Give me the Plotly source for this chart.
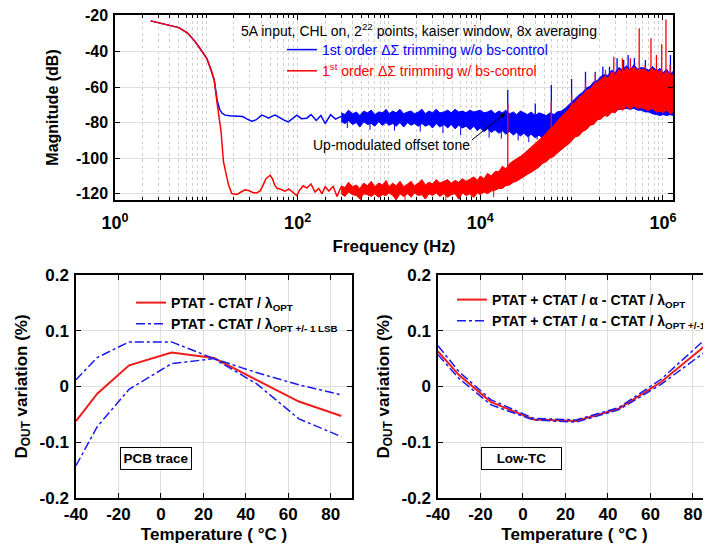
import math
import plotly.graph_objects as go

FONT = "Arial, 'Liberation Sans', sans-serif"
PAGE_W, PAGE_H = 711, 552
OFF = 8                      # page body margin: figure starts 8 px in from the page corner
W, H = PAGE_W - OFF, PAGE_H - OFF
BLUE = "#0000ff"
RED = "#ff0000"

# ---------------- Top panel: output spectrum ----------------
# smooth low-frequency part
red_lo_f = [2.46, 3.5, 5.0, 6.2, 7.4, 8.5, 10.1, 11.2, 12.2, 13.2, 14.5, 15.4, 16.5, 17.5, 19, 21.6,
            24, 26.6, 29.5, 32.7, 35.5, 38.8, 42, 45, 50, 53, 56, 59, 65, 73, 80, 88, 98, 105,
            115, 126, 140, 155, 170, 185, 200, 220, 245, 270, 300]
red_lo_db = [-22.8, -24.5, -26.6, -29.5, -33.9, -38.2, -43.8, -50, -56, -70, -85, -102, -110, -115,
             -119.9, -120.4, -119, -117.8, -118.3, -119.4, -119.5, -118.4, -115, -111.5, -109.6,
             -111.5, -115, -116.8, -117.5, -118.5, -117.3, -119, -121, -118, -115.5, -116.8, -114.5,
             -119, -117, -120, -116, -118.5, -115.8, -121.5, -116]
blue_lo_f = [2.46, 3.5, 5.0, 6.2, 7.4, 8.5, 10.1, 11.2, 12.2, 13.2, 14, 14.8, 16, 18, 20, 22, 25, 28,
             31.5, 35, 40.4, 44, 48, 52, 57, 63, 70, 79, 88, 98, 110, 126, 140, 160, 180, 200, 230,
             260, 300]
blue_lo_db = [-22.8, -24.5, -26.6, -29.5, -33.9, -38.2, -43.8, -50, -56, -68, -72.5, -74.6, -75.8,
              -76.2, -76.4, -76.3, -76.6, -78, -79.2, -78.5, -75.8, -76.5, -77.5, -76.5, -75.8, -77,
              -78.5, -79.6, -77.5, -75.8, -77.8, -77.5, -75.5, -78.8, -76, -80.5, -75.5, -78, -76.5]

# noisy part: upper / lower envelopes of the noise band
band_f = [300, 330, 360, 400, 440, 480, 530, 580, 640, 700, 770, 850, 930, 1000,
          1100, 1200, 1320, 1450, 1600, 1750, 1900, 2100, 2300, 2500, 2750, 3000, 3300, 3600,
          4000, 4400, 4800, 5300, 5800, 6400, 7000, 7700, 8500, 9300,
          1.0e4, 1.1e4, 1.2e4, 1.32e4, 1.45e4, 1.6e4, 1.75e4, 1.9e4, 2.1e4, 2.3e4, 2.5e4, 2.75e4,
          3.0e4, 3.3e4, 3.6e4, 4.0e4, 4.4e4, 4.8e4, 5.3e4, 5.8e4, 6.4e4, 7.0e4, 7.7e4, 8.5e4, 9.3e4,
          1.0e5, 1.1e5, 1.2e5, 1.32e5, 1.45e5, 1.6e5, 1.75e5, 1.9e5, 2.1e5, 2.3e5, 2.5e5, 2.75e5,
          3.0e5, 3.3e5, 3.6e5, 4.0e5, 4.4e5, 4.8e5, 5.3e5, 5.8e5, 6.4e5, 7.0e5, 7.7e5, 8.5e5, 9.3e5,
          1.0e6, 1.1e6, 1.2e6, 1.3e6]
red_upper = [-115.5, -116.5, -113.5, -116, -115, -117, -114, -115.5, -113, -116, -114, -115, -112.5, -116,
             -114, -115.5, -113, -116, -114.5, -113, -115.5, -114, -112, -115, -113.5, -114.5, -112, -114,
             -113, -112, -114, -112.5, -113.5, -111.5, -113, -112, -110.5, -112.5,
             -110, -111.5, -108.5, -110, -107.5, -107.5, -104.5, -106, -103, -101.5, -100.5, -99,
             -97.5, -95.5, -94, -92, -90, -88, -86, -83.5, -81.5, -79, -77, -74.5, -72.5,
             -70, -68.5, -66, -64.5, -62, -61, -58.5, -57.5, -55.5, -54, -55, -51.5,
             -53.5, -50, -52, -49, -51.5, -48.5, -51, -50, -50.5, -51.5, -49.5, -52, -50.5,
             -53, -51, -54, -52.5]
red_lower = [-120, -121.5, -119, -120.5, -121, -123, -120, -120.5, -121.5, -120, -122, -120.5, -121, -119.5,
             -121, -123.5, -120, -121.5, -120, -122, -119.5, -121, -120.5, -123, -120, -121, -119.5, -121.5,
             -120, -122, -120.5, -120, -123, -119.5, -121, -120, -122, -119.5,
             -120.5, -119, -120, -118.5, -118, -117, -117, -115.5, -115, -113.5, -113, -111.5,
             -110.5, -109, -108, -106.5, -105, -103, -102, -100, -99, -97, -95.5, -93.5, -92,
             -90.5, -88, -87.5, -85, -84, -81.5, -81, -78.5, -78, -76, -76.5, -74,
             -74.5, -72, -73, -71, -72.5, -70.5, -72, -71.5, -72.5, -73, -72, -74, -73.5,
             -74.5, -73, -75, -74]
blue_upper = [-74.5, -75.5, -73, -75, -74, -76, -73.5, -74.5, -73, -75.5, -74, -74.5, -72.5, -75,
              -73.5, -74.5, -72.5, -75, -74, -73.5, -75, -74, -72.5, -75, -73.5, -74.5, -72.5, -74.5,
              -74, -73, -74.5, -72.5, -74, -73.5, -74.5, -73, -74, -73.5,
              -73, -74.5, -74, -73, -75, -73.5, -74.5, -73, -75, -74, -75.5, -73.5,
              -74.5, -75.5, -74, -76, -74.5, -75, -76, -74.5, -75.5, -74, -73.5, -72, -70,
              -68.5, -66.5, -64.5, -63, -60.5, -59.5, -57, -56.5, -54, -53, -53.5, -50.5,
              -52, -49, -50.5, -48, -50.5, -47.5, -50, -49, -49.5, -50.5, -48.5, -51, -49.5,
              -52, -50, -53, -51]
blue_lower = [-79.5, -80.5, -79, -81, -80, -82.5, -79.5, -81, -80.5, -82, -79.5, -81.5, -80, -81.5,
              -80.5, -82, -80, -82.5, -80, -81.5, -80.5, -82, -80.5, -82, -81, -83, -80.5, -82.5,
              -81, -83, -81, -83.5, -81.5, -83, -82, -84, -82, -84.5,
              -83, -85, -83.5, -85.5, -84, -86, -84.5, -86.5, -85, -87, -85.5, -87.5,
              -86, -88, -86.5, -88.5, -87, -89, -87.5, -90, -88, -90.5, -88, -89, -88,
              -88, -86, -86, -84, -83, -81, -80, -78, -77.5, -76, -75.5, -74,
              -73.5, -72.5, -72.5, -72, -72.5, -72, -73, -73, -74, -74, -75, -75.5, -76,
              -75.5, -76, -75.5, -76]

# isolated noise hairlines sticking out of the bands
blue_hair_f = [350, 620, 1150, 2200, 3900, 6100, 1.25e4, 1.7e4, 2.6e4, 3.4e4, 4.2e4, 5.0e4, 5.6e4,
               6.7e4, 7.3e4]
blue_hair_db = [-83, -84, -84.5, -85, -86, -87, -88.5, -89, -90, -91, -89.5, -92, -93, -91.5, -94]
blue_hair_base = [-78, -78, -78, -78, -78, -79, -80, -80, -81, -82, -82, -83, -83, -84, -84]
red_hair_f = [490, 1500, 4200, 6000, 8000, 1.4e4]
red_hair_db = [-123.5, -124, -123.5, -124, -124, -122]
red_hair_base = [-118, -118, -118, -118, -118, -116]

# spectral tones (spurs)
blue_spur_f = [2.0e4, 4.0e4, 6.0e4, 1.0e5, 1.42e5, 1.82e5, 2.2e5, 2.6e5, 3.15e5, 3.72e5, 4.16e5,
               4.87e5, 6.43e5, 8.13e5, 1.21e6]
blue_spur_db = [-61.7, -69.2, -58.9, -55.5, -51.4, -51.4, -48.6, -48.6, -43.8, -44.8, -42, -43.8,
                -44.8, -49.5, -42]
blue_spur_base = [-78, -80, -80, -80, -75, -70, -65, -62, -60, -60, -60, -60, -60, -62, -62]
red_spur_f = [2.0e4, 6.0e4, 1.0e5, 1.42e5, 1.82e5, 2.35e5, 2.9e5, 3.6e5, 4.4e5, 5.5e5, 6.4e5,
              7.4e5, 8.5e5, 9.7e5, 1.08e6, 1.2e6]
red_spur_db = [-69.2, -68, -64, -57, -52.3, -50.4, -42.9, -43.8, -43.8, -26.9, -47.6, -32.6, -42,
               -36, -22, -47.6]
red_spur_base = [-110, -95, -85, -75, -70, -66, -62, -62, -60, -60, -62, -62, -63, -63, -63, -63]

freq_tickvals = [1, 100, 1e4, 1e6]
freq_ticktext = ["<b>10<sup>0</sup></b>", "<b>10<sup>2</sup></b>", "<b>10<sup>4</sup></b>",
                 "<b>10<sup>6</sup></b>"]
mag_ticks = [-20, -40, -60, -80, -100, -120]

# ---------------- Bottom panels: temperature sweeps ----------------
temp = [-40, -30, -15, 5, 25, 45, 65, 85]
pcb_opt = [-0.062, -0.013, 0.038, 0.061, 0.051, 0.012, -0.027, -0.053]
pcb_plus = [0.012, 0.052, 0.080, 0.080, 0.050, 0.025, 0.003, -0.015]
pcb_minus = [-0.142, -0.072, -0.005, 0.041, 0.050, 0.005, -0.058, -0.090]
ltc_opt = [0.063, 0.020, -0.028, -0.059, -0.062, -0.040, 0.008, 0.071]
ltc_plus = [0.073, 0.026, -0.024, -0.057, -0.060, -0.038, 0.013, 0.082]
ltc_minus = [0.057, 0.014, -0.033, -0.060, -0.064, -0.042, 0.004, 0.060]
temp_ticks = [-40, -20, 0, 20, 40, 60, 80]
dout_ticks = [-0.2, -0.1, 0, 0.1, 0.2]
dout_ticktext = ["<b>-0.2</b>", "<b>-0.1</b>", "<b>0</b>", "<b>0.1</b>", "<b>0.2</b>"]


def seg_xy(fs, tops, bases):
    xs, ys = [], []
    for f, t, b in zip(fs, tops, bases):
        xs += [f, f, None]
        ys += [b, t, None]
    return xs, ys


fig = go.Figure()

# --- top traces (blue first, red on top) ---
fig.add_trace(go.Scatter(x=blue_lo_f, y=blue_lo_db, mode="lines", line=dict(color=BLUE, width=1.5),
                         name='<span style="color:#0000ff">1st order ΔΣ trimming w/o bs-control</span>',
                         legend="legend", xaxis="x", yaxis="y"))
fig.add_trace(go.Scatter(x=band_f, y=blue_lower, mode="lines", line=dict(color=BLUE, width=1),
                         showlegend=False, xaxis="x", yaxis="y"))
fig.add_trace(go.Scatter(x=band_f, y=blue_upper, mode="lines", line=dict(color=BLUE, width=1),
                         fill="tonexty", fillcolor=BLUE, showlegend=False, xaxis="x", yaxis="y"))
hx, hy = seg_xy(blue_hair_f, blue_hair_db, blue_hair_base)
fig.add_trace(go.Scatter(x=hx, y=hy, mode="lines", line=dict(color=BLUE, width=1),
                         showlegend=False, xaxis="x", yaxis="y"))
bx, by = seg_xy(blue_spur_f, blue_spur_db, blue_spur_base)
fig.add_trace(go.Scatter(x=bx, y=by, mode="lines", line=dict(color=BLUE, width=1.3),
                         showlegend=False, xaxis="x", yaxis="y"))

fig.add_trace(go.Scatter(x=red_lo_f, y=red_lo_db, mode="lines", line=dict(color=RED, width=1.5),
                         name='<span style="color:#ff0000">1<sup>st</sup> order ΔΣ trimming w/ bs-control</span>',
                         legend="legend", xaxis="x", yaxis="y"))
fig.add_trace(go.Scatter(x=band_f, y=red_lower, mode="lines", line=dict(color=RED, width=1),
                         showlegend=False, xaxis="x", yaxis="y"))
fig.add_trace(go.Scatter(x=band_f, y=red_upper, mode="lines", line=dict(color=RED, width=1),
                         fill="tonexty", fillcolor=RED, showlegend=False, xaxis="x", yaxis="y"))
hx, hy = seg_xy(red_hair_f, red_hair_db, red_hair_base)
fig.add_trace(go.Scatter(x=hx, y=hy, mode="lines", line=dict(color=RED, width=1),
                         showlegend=False, xaxis="x", yaxis="y"))
rx, ry = seg_xy(red_spur_f, red_spur_db, red_spur_base)
fig.add_trace(go.Scatter(x=rx, y=ry, mode="lines", line=dict(color=RED, width=1.3),
                         showlegend=False, xaxis="x", yaxis="y"))

# --- bottom-left (PCB trace) ---
fig.add_trace(go.Scatter(x=temp, y=pcb_opt, mode="lines", line=dict(color="#ee1c1c", width=2),
                         name="<b>PTAT - CTAT / λ<sub>OPT</sub></b>", legend="legend2",
                         xaxis="x2", yaxis="y2"))
fig.add_trace(go.Scatter(x=temp, y=pcb_plus, mode="lines", line=dict(color="#1a1aee", width=1.5, dash="dashdot"),
                         name="<b>PTAT - CTAT / λ<sub>OPT +/- 1 LSB</sub></b>", legend="legend2",
                         xaxis="x2", yaxis="y2"))
fig.add_trace(go.Scatter(x=temp, y=pcb_minus, mode="lines", line=dict(color="#1a1aee", width=1.5, dash="dashdot"),
                         showlegend=False, xaxis="x2", yaxis="y2"))

# --- bottom-right (Low-TC) ---
fig.add_trace(go.Scatter(x=temp, y=ltc_opt, mode="lines", line=dict(color="#ee1c1c", width=2),
                         name="<b>PTAT + CTAT / α - CTAT / λ<sub>OPT</sub></b>", legend="legend3",
                         xaxis="x3", yaxis="y3"))
fig.add_trace(go.Scatter(x=temp, y=ltc_plus, mode="lines", line=dict(color="#1a1aee", width=1.5, dash="dashdot"),
                         name="<b>PTAT + CTAT / α - CTAT / λ<sub>OPT +/-1 LSB</sub></b>", legend="legend3",
                         xaxis="x3", yaxis="y3"))
fig.add_trace(go.Scatter(x=temp, y=ltc_minus, mode="lines", line=dict(color="#1a1aee", width=1.5, dash="dashdot"),
                         showlegend=False, xaxis="x3", yaxis="y3"))


def px_x(p):
    """page pixel -> paper fraction"""
    return (p - OFF) / W


def px_y(p):
    return 1 - (p - OFF) / H


axis_common = dict(showline=True, linecolor="black", linewidth=1.5, mirror="ticks",
                   ticks="inside", tickcolor="black", ticklen=5, zeroline=False, automargin=False,
                   ticklabeloverflow="allow")

grid_solid = dict(showgrid=True, gridcolor="#dedede", gridwidth=1)
legend_common = dict(xanchor="left", yanchor="top", bgcolor="rgba(0,0,0,0)",
                     font=dict(size=14), tracegroupgap=0, traceorder="normal")

fig.update_layout(
    template="none",
    width=W, height=H,
    margin=dict(l=0, r=0, t=0, b=0, autoexpand=False),
    paper_bgcolor="white", plot_bgcolor="white",
    font=dict(family=FONT, color="black"),
    xaxis=dict(domain=[px_x(115), px_x(673)], anchor="y", type="log",
               range=[0, math.log10(1.29e6)],
               tickmode="array", tickvals=freq_tickvals, ticktext=freq_ticktext,
               tickfont=dict(size=18), ticklabelstandoff=6,
               showgrid=True, gridcolor="#d0d0d0", griddash="dot", gridwidth=1,
               minor=dict(dtick="D1", showgrid=True, gridcolor="#d0d0d0", griddash="dot",
                          ticks="inside", ticklen=3, tickcolor="black"),
               title=dict(text="<b>Frequency (Hz)</b>", font=dict(size=17), standoff=8),
               **axis_common),
    yaxis=dict(domain=[px_y(200), px_y(15)], anchor="x", range=[-123.5, -19.5],
               tickmode="array", tickvals=mag_ticks, ticktext=[f"<b>{v}</b>" for v in mag_ticks],
               tickfont=dict(size=16), ticklabelstandoff=2,
               title=dict(text="<b>Magnitude (dB)</b>", font=dict(size=16), standoff=13),
               **grid_solid, **axis_common),
    xaxis2=dict(domain=[px_x(76), px_x(352)], anchor="y2", range=[-40, 90],
                tickmode="array", tickvals=temp_ticks, ticktext=[f"<b>{v}</b>" for v in temp_ticks],
                tickfont=dict(size=17), ticklabelstandoff=0,
                title=dict(text="<b>Temperature ( °C )</b>", font=dict(size=17), standoff=5),
                **grid_solid, **axis_common),
    yaxis2=dict(domain=[px_y(498), px_y(275)], anchor="x2", range=[-0.2, 0.2],
                tickmode="array", tickvals=dout_ticks, ticktext=dout_ticktext,
                tickfont=dict(size=17), ticklabelstandoff=2,
                title=dict(text="<b>D<sub>OUT</sub> variation (%)</b>", font=dict(size=17), standoff=8),
                **grid_solid, **axis_common),
    xaxis3=dict(domain=[px_x(438), 1.0], anchor="y3", range=[-40, 88.5],
                tickmode="array", tickvals=temp_ticks, ticktext=[f"<b>{v}</b>" for v in temp_ticks],
                tickfont=dict(size=17), ticklabelstandoff=0,
                title=dict(text="<b>Temperature ( °C )</b>", font=dict(size=17), standoff=5),
                **grid_solid, **axis_common),
    yaxis3=dict(domain=[px_y(498), px_y(275)], anchor="x3", range=[-0.2, 0.2],
                tickmode="array", tickvals=dout_ticks, ticktext=dout_ticktext,
                tickfont=dict(size=17), ticklabelstandoff=2,
                title=dict(text="<b>D<sub>OUT</sub> variation (%)</b>", font=dict(size=17), standoff=8),
                **grid_solid, **axis_common),
    legend=dict(x=px_x(282), y=px_y(34), **legend_common),
    legend2=dict(x=px_x(131), y=px_y(287), **legend_common),
    legend3=dict(x=px_x(452), y=px_y(284), **legend_common),
)
fig.update_layout(yaxis3=dict(mirror=False))

annotations = [
    dict(xref="x", yref="y", x=3.33, y=-28, showarrow=False,
         text="5A input, CHL on, 2<sup>22</sup> points, kaiser window, 8x averaging",
         font=dict(size=14, color="black")),
    dict(xref="x", yref="y", x=3.025, y=-92.7, showarrow=False,
         text="Up-modulated offset tone", font=dict(size=14, color="black")),
    dict(xref="x", yref="y", x=math.log10(1.88e4), y=-74.8, axref="x", ayref="y",
         ax=math.log10(7.8e3), ay=-90.4, text="", showarrow=True, arrowhead=2, arrowsize=1,
         arrowwidth=1, arrowcolor="black", standoff=0),
    dict(xref="x2", yref="y2", x=-2.2, y=-0.130, showarrow=False, text="<b>PCB trace</b>",
         font=dict(size=13.5), bordercolor="black", borderwidth=1, borderpad=3, width=64,
         bgcolor="white"),
    dict(xref="x3", yref="y3", x=-0.7, y=-0.130, showarrow=False, text="<b>Low-TC</b>",
         font=dict(size=13.5), bordercolor="black", borderwidth=1, borderpad=3, width=73,
         bgcolor="white"),
]
fig.update_layout(annotations=annotations)

fig.write_html("out.html")
